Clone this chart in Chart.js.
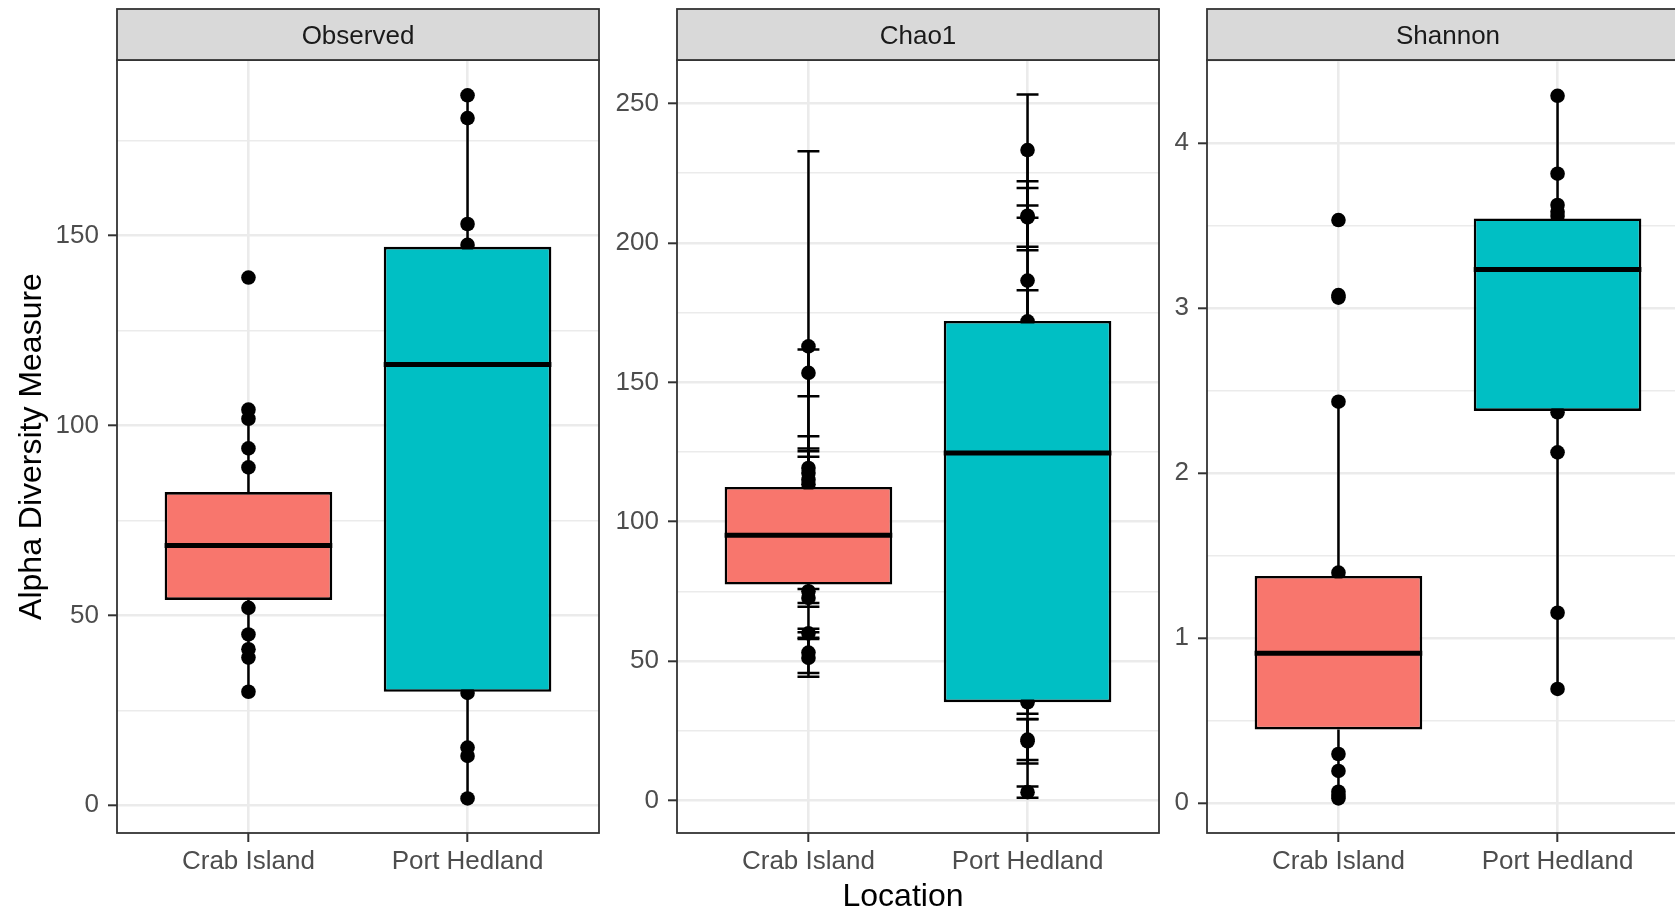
<!DOCTYPE html>
<html>
<head>
<meta charset="utf-8">
<title>Alpha diversity by location</title>
<script src="https://cdn.jsdelivr.net/npm/chart.js@4.4.1/dist/chart.umd.min.js"></script>
<style>
  html, body { margin: 0; padding: 0; background: #ffffff; }
  #fig { position: relative; width: 1675px; height: 911px; overflow: hidden; background: #ffffff; }
  #fig canvas { position: absolute; top: 0; }
</style>
</head>
<body>
<div id="fig">
  <canvas id="pObserved" width="603" height="911" style="left:0px"></canvas>
  <canvas id="pChao1" width="600" height="911" style="left:603px"></canvas>
  <canvas id="pShannon" width="543" height="911" style="left:1150px"></canvas>
</div>
<script>
// ---- categories ----
const locations = ['Crab Island', 'Port Hedland'];
const measures = ['Observed', 'Chao1', 'Shannon'];

// ---- Observed richness ----
// box summaries: [lower whisker, Q1, median, Q3, upper whisker]
const observedBoxCrab = [29.9, 54.1, 68.4, 82.5, 104.2];
const observedBoxPort = [1.8, 29.9, 116.1, 147.1, 187.0];
const observedPointsCrab = [139.0, 104.2, 101.8, 94.0, 89.0, 52.0, 45.0, 41.1, 38.9, 29.9];
const observedPointsPort = [187.0, 181.0, 153.1, 147.6, 29.6, 15.2, 13.0, 1.8];
const observedTicks = [0, 50, 100, 150];
const observedRange = [-7.3, 196.3];

// ---- Chao1 (with standard errors) ----
const chao1BoxCrab = [51.2, 77.5, 95.2, 112.5, 162.9];
const chao1BoxPort = [3.05, 35.3, 124.7, 172.0, 233.3];
const chao1PointsCrab = [162.9, 153.4, 119.3, 117.5, 115.1, 113.5, 75.1, 72.7, 60.0, 53.1, 51.2];
const chao1SeCrab     = [70.0, 8.4, 11.4, 8.8, 10.2, 9.8, 4.2, 3.2, 1.6, 7.3, 6.8];
const chao1PointsPort = [233.3, 209.75, 209.15, 186.5, 171.9, 35.3, 21.9, 21.3, 3.05];
const chao1SePort     = [19.9, 12.35, 10.55, 22.5, 11.1, 4.1, 7.3, 8.0, 2.05];
const chao1Ticks = [0, 50, 100, 150, 200, 250];
const chao1Range = [-11.6, 265.6];

// ---- Shannon ----
const shannonBoxCrab = [0.03, 0.448, 0.909, 1.378, 2.434];
const shannonBoxPort = [0.693, 2.378, 3.236, 3.545, 4.288];
const shannonPointsCrab = [3.535, 3.08, 3.065, 2.434, 1.398, 0.299, 0.196, 0.07, 0.05, 0.03];
const shannonPointsPort = [4.288, 3.816, 3.626, 3.585, 3.56, 2.37, 2.127, 1.155, 0.693];
const shannonTicks = [0, 1, 2, 3, 4];
const shannonRange = [-0.18, 4.505];

// ---- figure layout (page pixels) ----
const PANEL_LEFT = [117, 677, 1207];
const PANEL_WIDTH = 482;
const FIG_TITLE_X = (PANEL_LEFT[0] + PANEL_LEFT[2] + PANEL_WIDTH) / 2; // centred over all panels

// ---- styling ----
const FONT = '"Liberation Sans", Arial, Helvetica, sans-serif';
const FILLS = ['#F8766D', '#00BFC4'];
const GRID = '#EBEBEB';
const FRAME = '#333333';
const TICK_TEXT = '#4D4D4D';
const LINE_W = 2.5;

Chart.defaults.font.family = FONT;
Chart.defaults.animation = false;

// minor grid positions halfway between major breaks, kept inside the axis range
function minorBreaks(major, range) {
  const step = major[1] - major[0];
  const out = [];
  [major[0] - step].concat(major).forEach(m => {
    const v = m + step / 2;
    if (v > range[0] && v < range[1]) out.push(v);
  });
  return out;
}

function makePanel(canvasId, spec) {
  const canvas = document.getElementById(canvasId);
  const canvasLeft = parseFloat(canvas.style.left);
  const major = spec.ticks;
  const allTicks = major.concat(minorBreaks(major, spec.range)).sort((a, b) => a - b);
  const isMajor = v => major.some(m => Math.abs(m - v) < 1e-9);

  const scatterData = [];
  spec.points.forEach((arr, i) => arr.forEach(v => scatterData.push({ x: i + 1, y: v })));

  const decor = {
    id: 'panelDecor',
    // error bars sit above the sample points and under the boxes
    afterDatasetDraw(chart, args) {
      if (!spec.errors || args.index !== 1) return;
      const { ctx, scales: { x, y } } = chart;
      ctx.save();
      ctx.strokeStyle = '#000';
      ctx.lineWidth = LINE_W;
      spec.points.forEach((arr, i) => {
        const cx = x.getPixelForValue(i + 1);
        const half = (x.getPixelForValue(i + 1.05) - x.getPixelForValue(i + 0.95)) / 2;
        arr.forEach((v, j) => {
          const se = spec.errors[i][j];
          const yt = y.getPixelForValue(v + se);
          const yb = y.getPixelForValue(v - se);
          ctx.beginPath();
          ctx.moveTo(cx, yt); ctx.lineTo(cx, yb);
          ctx.moveTo(cx - half, yt); ctx.lineTo(cx + half, yt);
          ctx.moveTo(cx - half, yb); ctx.lineTo(cx + half, yb);
          ctx.stroke();
        });
      });
      ctx.restore();
    },
    // whiskers and median bars of each box
    afterDatasetsDraw(chart) {
      const { ctx, scales: { x, y } } = chart;
      const bars = chart.getDatasetMeta(0).data;
      ctx.save();
      ctx.strokeStyle = '#000';
      spec.boxes.forEach((b, i) => {
        const cx = x.getPixelForValue(i + 1);
        ctx.lineWidth = LINE_W;
        ctx.beginPath();
        ctx.moveTo(cx, y.getPixelForValue(b[0])); ctx.lineTo(cx, y.getPixelForValue(b[1]));
        ctx.moveTo(cx, y.getPixelForValue(b[3])); ctx.lineTo(cx, y.getPixelForValue(b[4]));
        ctx.stroke();
        const p = bars[i].getProps(['x', 'width'], true);
        const my = y.getPixelForValue(b[2]);
        ctx.lineWidth = 5;
        ctx.beginPath();
        ctx.moveTo(p.x - p.width / 2, my); ctx.lineTo(p.x + p.width / 2, my);
        ctx.stroke();
      });
      ctx.restore();
    },
    // panel frame, facet strip and (for the middle panel) the shared x title
    afterDraw(chart) {
      const { ctx, chartArea: a } = chart;
      const w = a.right - a.left;
      const stripH = 51;
      ctx.save();
      ctx.strokeStyle = FRAME;
      ctx.lineWidth = 1.8;
      ctx.strokeRect(a.left, a.top, w, a.bottom - a.top);
      ctx.fillStyle = '#D9D9D9';
      ctx.fillRect(a.left, a.top - stripH, w, stripH);
      ctx.strokeRect(a.left, a.top - stripH, w, stripH);
      ctx.fillStyle = '#1A1A1A';
      ctx.font = '26px ' + FONT;
      ctx.textAlign = 'center';
      ctx.textBaseline = 'middle';
      ctx.fillText(spec.name, a.left + w / 2, a.top - stripH / 2 + 2.5);
      if (spec.xTitle) {
        ctx.fillStyle = '#000';
        ctx.font = '32px ' + FONT;
        ctx.fillText(spec.xTitle, FIG_TITLE_X - canvasLeft, a.bottom + 64);
      }
      ctx.restore();
    }
  };

  const yScale = {
    type: 'linear',
    min: spec.range[0],
    max: spec.range[1],
    afterBuildTicks: sc => { sc.ticks = allTicks.map(v => ({ value: v })); },
    afterFit: sc => { sc.width = spec.yAxisWidth; },
    ticks: {
      autoSkip: false,
      padding: 9,
      color: TICK_TEXT,
      font: { size: 26 },
      callback: v => (isMajor(v) ? String(v) : '')
    },
    grid: {
      color: GRID,
      lineWidth: c => (c.tick && isMajor(c.tick.value) ? 2.6 : 1.5),
      tickColor: c => (c.tick && isMajor(c.tick.value) ? FRAME : 'rgba(0,0,0,0)'),
      tickWidth: 2,
      tickLength: 9
    },
    border: { display: false },
    title: spec.yTitle
      ? { display: true, text: spec.yTitle, color: '#000', font: { size: 32, lineHeight: 1.2 }, padding: { top: 12.6, bottom: 0 } }
      : { display: false }
  };

  const xScale = {
    type: 'linear',
    min: 0.4,
    max: 2.6,
    offset: false,
    afterBuildTicks: sc => { sc.ticks = locations.map((_, i) => ({ value: i + 1 })); },
    afterFit: sc => { sc.height = 50; },
    ticks: {
      autoSkip: false,
      maxRotation: 0,
      padding: 4,
      color: TICK_TEXT,
      font: { size: 26 },
      callback: (v, i) => locations[i]
    },
    grid: { offset: false, color: GRID, lineWidth: 2.6, tickColor: FRAME, tickWidth: 2, tickLength: 9 },
    border: { display: false }
  };

  return new Chart(canvas, {
    type: 'bar',
    data: {
      datasets: [
        {
          type: 'bar',
          order: 1,
          data: spec.boxes.map((b, i) => ({ x: i + 1, y: [b[1], b[3]] })),
          backgroundColor: FILLS,
          borderColor: '#000',
          borderWidth: 2.6,
          borderSkipped: false,
          categoryPercentage: 1,
          barPercentage: 0.765
        },
        {
          type: 'scatter',
          order: 2,
          data: scatterData,
          pointRadius: 7.3,
          pointHoverRadius: 7.3,
          pointBackgroundColor: '#000',
          pointBorderWidth: 0
        }
      ]
    },
    options: {
      responsive: false,
      animation: false,
      events: [],
      layout: {
        autoPadding: false,
        padding: { top: 60, right: spec.padRight, bottom: 28, left: 0 }
      },
      plugins: {
        legend: { display: false },
        tooltip: { enabled: false },
        title: { display: false }
      },
      scales: { x: xScale, y: yScale }
    },
    plugins: [decor]
  });
}

makePanel('pObserved', {
  name: measures[0],
  boxes: [observedBoxCrab, observedBoxPort],
  points: [observedPointsCrab, observedPointsPort],
  ticks: observedTicks,
  range: observedRange,
  yTitle: 'Alpha Diversity Measure',
  yAxisWidth: PANEL_LEFT[0] - 0, padRight: 4
});

makePanel('pChao1', {
  name: measures[1],
  boxes: [chao1BoxCrab, chao1BoxPort],
  points: [chao1PointsCrab, chao1PointsPort],
  errors: [chao1SeCrab, chao1SePort],
  ticks: chao1Ticks,
  range: chao1Range,
  xTitle: 'Location',
  yAxisWidth: PANEL_LEFT[1] - 603, padRight: 44
});

makePanel('pShannon', {
  name: measures[2],
  boxes: [shannonBoxCrab, shannonBoxPort],
  points: [shannonPointsCrab, shannonPointsPort],
  ticks: shannonTicks,
  range: shannonRange,
  yAxisWidth: PANEL_LEFT[2] - 1150, padRight: 4
});
</script>
</body>
</html>
